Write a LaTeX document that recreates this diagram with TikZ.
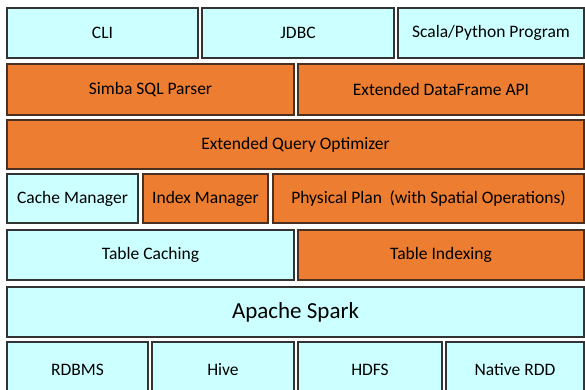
\documentclass[tikz,border=0pt]{standalone}
\usepackage{fontspec}
\setmainfont{Carlito}
\definecolor{cyanfill}{HTML}{CCFFFF}
\definecolor{orangefill}{HTML}{ED7D31}
\definecolor{edge}{HTML}{333333}
\definecolor{orangeedge}{HTML}{4A3020}
\tikzset{
  blk/.style={draw=edge, line width=1.1pt, inner sep=0pt, outer sep=0pt, text=black, font=\fontsize{17.5}{21}\selectfont},
  cy/.style={blk, fill=cyanfill},
  og/.style={blk, fill=orangefill, draw=orangeedge},
}
\newcommand\blk[7]{%
  \node[#6, minimum width={(#4-#2)*1pt}, minimum height={(#5-#3)*1pt}] (#1) at ({(#2+#4)/2},{(#3+#5)/2}) {#7};}
\begin{document}
\begin{tikzpicture}[x=1pt,y=-1pt]
\useasboundingbox (0,0) rectangle (585,389);
\begin{scope}
\clip (0,0) rectangle (585,389);
\blk{cli}{7}{8}{198}{58}{cy}{CLI}
\blk{jdbc}{202}{8}{394}{58}{cy}{JDBC}
\blk{scala}{398}{8}{584}{58}{cy}{Scala/Python Program}
\blk{parser}{7}{64}{294}{115}{og}{Simba SQL Parser}
\blk{dfapi}{298}{64}{584}{115}{og}{Extended DataFrame API}
\blk{opt}{7}{120}{584}{169}{og}{Extended Query Optimizer}
\blk{cache}{7}{174}{138}{223}{cy}{Cache Manager}
\blk{index}{143}{174}{268}{223}{og}{Index Manager}
\blk{plan}{273}{174}{584}{223}{og}{Physical Plan\hspace{0.2em} (with Spatial Operations)}
\blk{tcache}{7}{230}{294}{280}{cy}{Table Caching}
\blk{tindex}{298}{230}{584}{280}{og}{Table Indexing}
\blk{spark}{7}{287}{584}{337}{cy,font=\fontsize{23}{27}\selectfont}{Apache Spark}
\blk{rdbms}{7}{342}{148}{398}{cy}{RDBMS}
\blk{hive}{152}{342}{294}{398}{cy}{Hive}
\blk{hdfs}{298}{342}{442}{398}{cy}{HDFS}
\blk{rdd}{446}{342}{584}{398}{cy}{Native RDD}
\end{scope}
\end{tikzpicture}
\end{document}
